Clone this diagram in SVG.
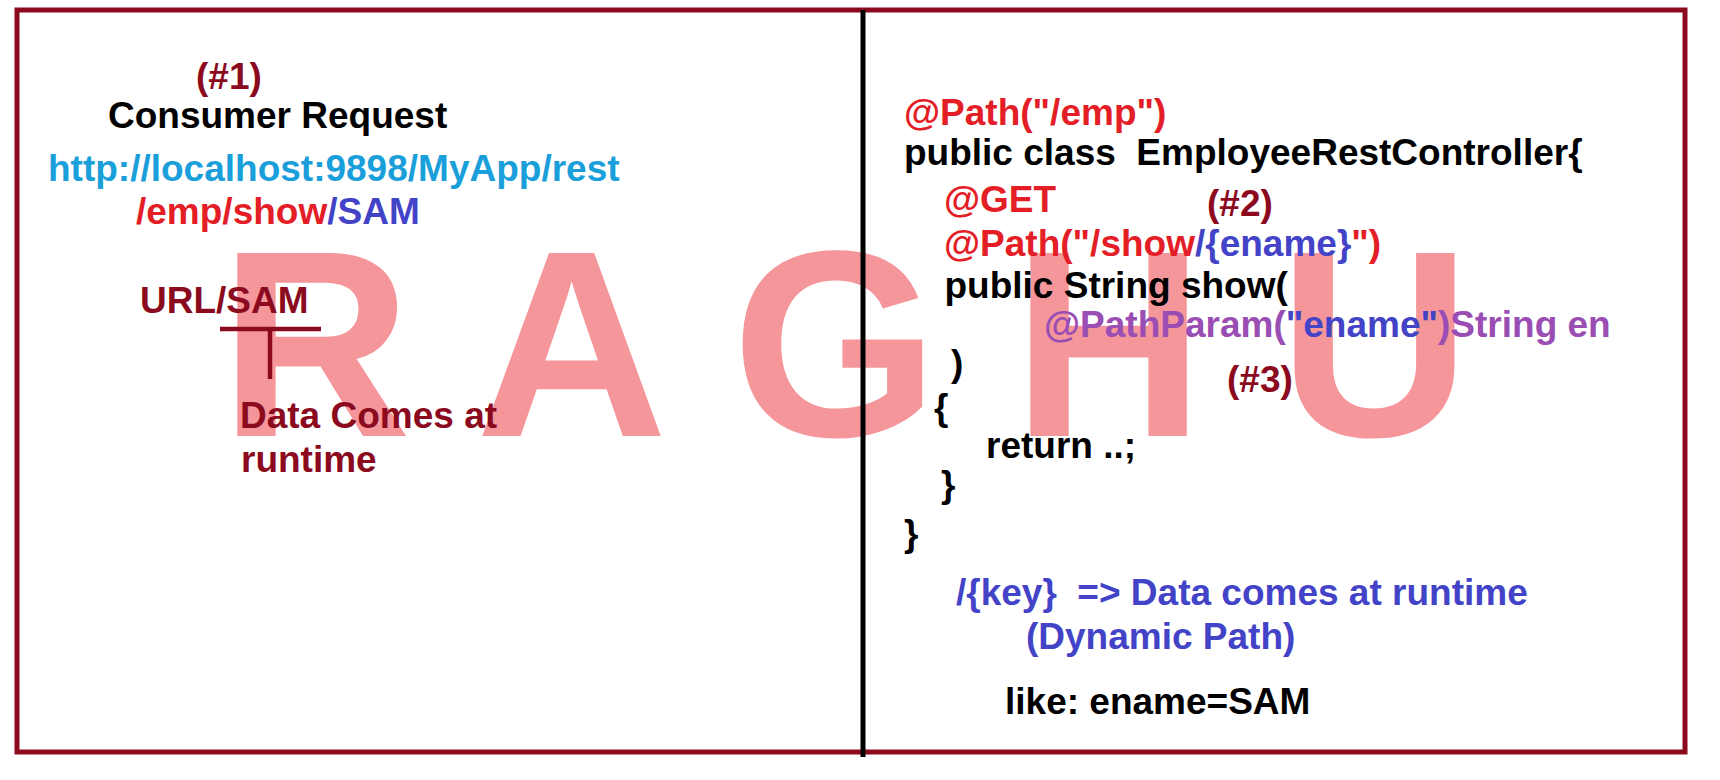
<svg xmlns="http://www.w3.org/2000/svg" width="1720" height="780" viewBox="0 0 1720 780">
<style>
text{font-family:"Liberation Sans",Arial,sans-serif;font-weight:bold;font-size:37px;white-space:pre}
.dr{fill:#8B0A1E}.bk{fill:#000}.cy{fill:#1A9FDB}.rd{fill:#E41E26}.bl{fill:#4343C8}.pu{fill:#9A4DB3}
.wm{fill:#F5969B;font-size:266px}
</style>
<rect width="1720" height="780" fill="#fff"/>
<g id="watermark"><text class="wm" x="219.5" y="436">R A G H U</text></g>
<g id="frame">
<rect x="17" y="10" width="1668" height="742" fill="none" stroke="#8B0A1E" stroke-width="5"/>
</g>
<g id="connectors">
<line x1="863" y1="10" x2="863" y2="757" stroke="#000" stroke-width="5"/>
<line x1="220" y1="329" x2="321" y2="329" stroke="#8B0A1E" stroke-width="4.5"/>
<line x1="270" y1="329" x2="270" y2="379" stroke="#8B0A1E" stroke-width="4.5"/>
</g>
<g id="consumer">
<text class="dr" x="196" y="89">(#1)</text>
<text class="bk" x="108" y="128">Consumer Request</text>
<text class="cy" x="48" y="181">http://localhost:9898/MyApp/rest</text>
<text x="136" y="224"><tspan class="rd">/emp/show</tspan><tspan class="bl">/SAM</tspan></text>
</g>
<g id="urlnote">
<text class="dr" x="140" y="313">URL/SAM</text>
<text class="dr" x="240" y="428">Data Comes at</text>
<text class="dr" x="241" y="472">runtime</text>
</g>
<g id="controller">
<text class="rd" x="904" y="125">@Path("/emp")</text>
<text class="bk" x="904" y="165">public class  EmployeeRestController{</text>
<text class="rd" x="944" y="212">@GET</text>
<text class="dr" x="1207" y="216">(#2)</text>
<text x="944" y="256"><tspan class="rd">@Path("/show</tspan><tspan class="bl">/{ename}</tspan><tspan class="rd">")</tspan></text>
<text class="bk" x="944.5" y="298">public String show(</text>
<text x="1044" y="337"><tspan class="pu">@PathParam(</tspan><tspan class="bl">"ename"</tspan><tspan class="pu">)String en</tspan></text>
<text class="bk" x="951" y="376">)</text>
<text class="dr" x="1227" y="392">(#3)</text>
<text class="bk" x="934" y="420">{</text>
<text class="bk" x="986" y="458">return ..;</text>
<text class="bk" x="941" y="497">}</text>
<text class="bk" x="904" y="546">}</text>
</g>
<g id="explanation">
<text class="bl" x="956" y="605">/{key}  =&gt; Data comes at runtime</text>
<text class="bl" x="1026" y="649">(Dynamic Path)</text>
<text class="bk" x="1005" y="714">like: ename=SAM</text>
</g>
</svg>
